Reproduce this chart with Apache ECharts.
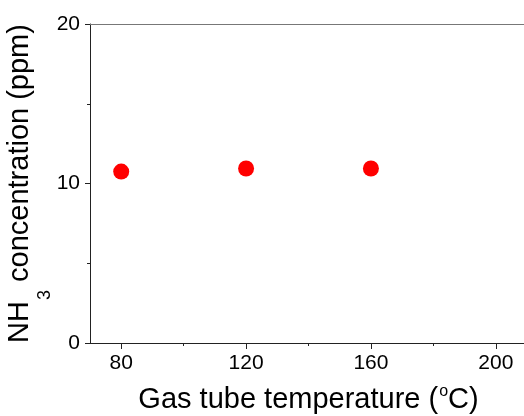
<!DOCTYPE html>
<html>
<head>
<meta charset="utf-8">
<script src="https://cdn.jsdelivr.net/npm/echarts@6/dist/echarts.min.js"></script>
<style>
  html, body { margin: 0; padding: 0; background: #fff; }
  #chart { width: 524px; height: 416px; }
</style>
</head>
<body>
<div id="chart"></div>
<script>
// gas tube temperature (°C) and measured NH3 (ppm)
const temps = [80, 120, 160];
const nh3 = [10.75, 10.94, 10.94];

const xTicks = [80, 120, 160, 200];
const xMinorTicks = [100, 140, 180];
const xMin = 70, xMax = 210;
const yMin = 0, yMax = 20, yStep = 10;

const FONT = "Liberation Sans";

const chart = echarts.init(document.getElementById("chart"));

chart.setOption({
  animation: false,
  backgroundColor: "#fff",
  textStyle: { fontFamily: FONT, color: "#000" },
  grid: { left: 90, right: -3, top: 24, bottom: 73, containLabel: false, outerBoundsMode: "none" },
  xAxis: [
    {
      type: "value",
      position: "bottom",
      min: xMin,
      max: xMax,
      axisLine: { lineStyle: { color: "#222", width: 1 } },
      axisTick: { customValues: xTicks, length: 6, lineStyle: { color: "#222" } },
      axisLabel: { customValues: xTicks, fontSize: 21, margin: 10, color: "#000", fontFamily: FONT },
      splitLine: { show: false },
      name: "{a|Gas tube temperature (}{sup|o}{a|C)}",
      nameLocation: "middle",
      nameGap: 40,
      nameTextStyle: {
        rich: {
          a: { fontSize: 29, lineHeight: 34, fontFamily: FONT, color: "#000" },
          sup: { fontSize: 16, lineHeight: 16, padding: [0, 0, 16, 1], fontFamily: FONT, color: "#000" }
        }
      }
    },
    {
      // minor ticks
      type: "value",
      position: "bottom",
      min: xMin,
      max: xMax,
      axisLine: { show: false },
      axisTick: { customValues: xMinorTicks, length: 3, lineStyle: { color: "#222" } },
      axisLabel: { show: false },
      splitLine: { show: false }
    },
    {
      // top frame line
      type: "value",
      position: "top",
      min: xMin,
      max: xMax,
      axisLine: { lineStyle: { color: "#777", width: 1 } },
      axisTick: { show: false },
      axisLabel: { show: false },
      splitLine: { show: false }
    }
  ],
  yAxis: {
    type: "value",
    min: yMin,
    max: yMax,
    interval: yStep,
    axisLine: { show: true, lineStyle: { color: "#222", width: 1 } },
    axisTick: { show: true, length: 5, lineStyle: { color: "#222" } },
    minorTick: { show: true, splitNumber: 2, length: 3, lineStyle: { color: "#222" } },
    axisLabel: { fontSize: 21, margin: 10, color: "#000", fontFamily: FONT },
    splitLine: { show: false },
    name: "{a|NH}{sub|3}{a| concentration (ppm)}",
    nameLocation: "middle",
    nameRotate: 90,
    nameGap: 53,
    nameMoveOverlap: false,
    nameTextStyle: {
      rich: {
        a: { fontSize: 29, lineHeight: 34, fontFamily: FONT, color: "#000" },
        sub: { fontSize: 18, lineHeight: 18, padding: [51, 0, 0, 1], fontFamily: FONT, color: "#000" }
      }
    }
  },
  series: [
    {
      type: "scatter",
      symbol: "circle",
      symbolSize: 16,
      itemStyle: { color: "#ff0000", opacity: 1 },
      data: temps.map((t, i) => [t, nh3[i]])
    }
  ]
});
</script>
</body>
</html>
